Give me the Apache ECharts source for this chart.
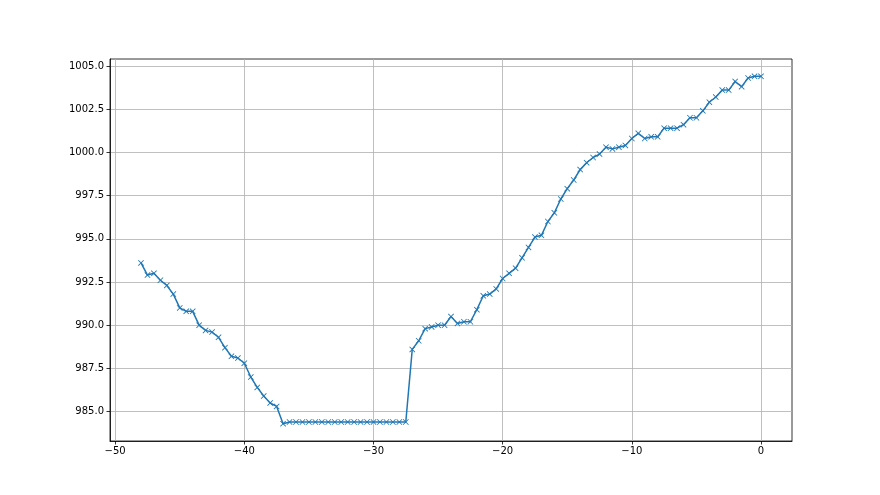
<!DOCTYPE html>
<html>
<head>
<meta charset="utf-8">
<script src="https://cdn.jsdelivr.net/npm/echarts@6/dist/echarts.min.js"></script>
<style>html,body{margin:0;padding:0;background:#fff}#c{width:880px;height:495px}</style>
</head>
<body>
<div id="c"></div>
<script>
const xValues = [-48,-47.5,-47,-46.5,-46,-45.5,-45,-44.5,-44,-43.5,-43,-42.5,-42,-41.5,-41,-40.5,-40,-39.5,-39,-38.5,-38,-37.5,-37,-36.5,-36,-35.5,-35,-34.5,-34,-33.5,-33,-32.5,-32,-31.5,-31,-30.5,-30,-29.5,-29,-28.5,-28,-27.5,-27,-26.5,-26,-25.5,-25,-24.5,-24,-23.5,-23,-22.5,-22,-21.5,-21,-20.5,-20,-19.5,-19,-18.5,-18,-17.5,-17,-16.5,-16,-15.5,-15,-14.5,-14,-13.5,-13,-12.5,-12,-11.5,-11,-10.5,-10,-9.5,-9,-8.5,-8,-7.5,-7,-6.5,-6,-5.5,-5,-4.5,-4,-3.5,-3,-2.5,-2,-1.5,-1,-0.5,0];
const pressure = [993.6,992.9,993.0,992.6,992.3,991.8,991.0,990.8,990.8,990.0,989.7,989.6,989.3,988.7,988.2,988.1,987.8,987.0,986.4,985.9,985.5,985.3,984.3,
984.4,984.4,984.4,984.4,984.4,984.4,984.4,984.4,984.4,984.4,984.4,984.4,984.4,984.4,984.4,984.4,984.4,984.4,984.4,
988.6,989.1,989.8,989.9,990.0,990.0,990.5,990.1,990.2,990.2,990.9,991.7,991.8,992.1,992.7,993.0,993.3,993.9,994.5,995.1,995.2,996.0,996.5,997.3,997.9,998.4,999.0,999.4,999.7,999.9,1000.3,1000.2,1000.3,1000.4,1000.8,1001.1,1000.8,1000.9,1000.9,1001.4,1001.4,1001.4,1001.6,1002.0,1002.0,1002.4,1002.9,1003.2,1003.6,1003.6,1004.1,1003.8,1004.3,1004.4,1004.4];
const xTicks = [-50,-40,-30,-20,-10,0];
const yTicks = [985,987.5,990,992.5,995,997.5,1000,1002.5,1005];

const chart = echarts.init(document.getElementById('c'), null, {renderer:'canvas'});
const font = {fontFamily:'DejaVu Sans', fontSize:10, color:'#000'};
chart.setOption({
  animation:false,
  backgroundColor:'#fff',
  grid:{left:110, right:88, top:59, bottom:54, show:true, borderColor:'#000', borderWidth:0.8},
  xAxis:{
    type:'value', min:-50.4, max:2.4,
    axisLine:{show:true, onZero:false, lineStyle:{color:'#000', width:0.8}},
    axisTick:{show:true, length:3.5, lineStyle:{color:'#000', width:0.8}, customValues:xTicks},
    axisLabel:Object.assign({margin:5, customValues:xTicks, formatter:v=>String(v).replace('-','\u2212')}, font),
    splitLine:{show:true, lineStyle:{color:'#b0b0b0', width:0.8}}
  },
  yAxis:{
    type:'value', min:983.3, max:1005.4,
    axisLine:{show:true, onZero:false, lineStyle:{color:'#000', width:0.8}},
    axisTick:{show:true, length:3.5, lineStyle:{color:'#000', width:0.8}, customValues:yTicks},
    axisLabel:Object.assign({margin:6, customValues:yTicks, formatter:v=>v.toFixed(1)}, font),
    splitLine:{show:true, lineStyle:{color:'#b0b0b0', width:0.8}}
  },
  series:[{
    type:'line',
    data:xValues.map((x,i)=>[x,pressure[i]]),
    lineStyle:{color:'#1f77b4', width:1.5},
    symbol:'path://M0,1L1,0L5,4L9,0L10,1L6,5L10,9L9,10L5,6L1,10L0,9L4,5Z',
    symbolSize:6,
    showSymbol:true,
    itemStyle:{color:'#1f77b4'}
  }]
});
</script>
</body>
</html>
